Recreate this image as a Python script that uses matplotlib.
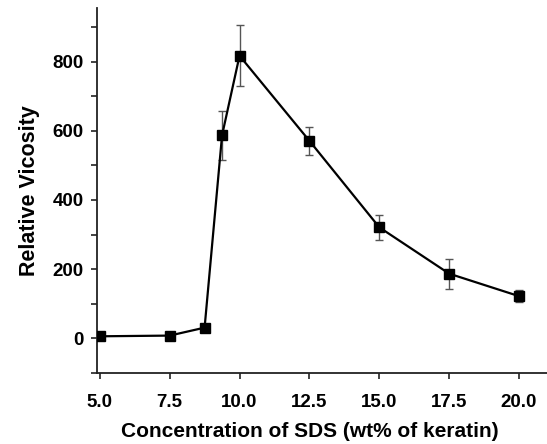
import numpy as np
import matplotlib
matplotlib.use("Agg")
import matplotlib.pyplot as plt
from matplotlib.ticker import MultipleLocator

# データ
sds = [5.0, 7.5, 8.75, 9.375, 10.0, 12.5, 15.0, 17.5, 20.0]
visc = [6, 8, 31, 587, 817, 571, 321, 187, 122]
err = [0, 0, 0, 70, 88, 40, 37, 43, 18]

plt.rcParams['font.family'] = ['Liberation Sans', 'DejaVu Sans']
plt.rcParams['font.weight'] = 'bold'

fig = plt.figure(figsize=(5.47, 4.44), dpi=100)
ax = fig.add_axes([0.1773, 0.16, 0.8227, 0.822])

ax.errorbar(sds, visc, yerr=err, fmt='none', ecolor='#555555', elinewidth=1.0,
            capsize=2.8, capthick=1.0, zorder=2)
ax.plot(sds, visc, color='black', linewidth=1.6, marker='s', markersize=7, zorder=3)

ax.set_xlim(4.9, 21.0)
ax.set_ylim(-100, 955)
ax.set_xticks(np.arange(5.0, 20.1, 2.5))
ax.set_xticklabels(['%.1f' % v for v in np.arange(5.0, 20.1, 2.5)])
ax.set_yticks([0, 200, 400, 600, 800])
ax.yaxis.set_minor_locator(MultipleLocator(100))

for s in ['top', 'right']:
    ax.spines[s].set_visible(False)
for s in ['left', 'bottom']:
    ax.spines[s].set_linewidth(1.3)
    ax.spines[s].set_color('#222222')

ax.tick_params(axis='both', which='both', direction='out', length=4.5, width=1.2,
               labelsize=13.5, color='#222222')
ax.tick_params(axis='x', pad=11)
ax.tick_params(axis='y', pad=5)
for lab in ax.get_xticklabels() + ax.get_yticklabels():
    lab.set_fontweight('bold')

ax.set_xlabel('Concentration of SDS (wt% of keratin)', fontsize=15, fontweight='bold', labelpad=11)
ax.xaxis.set_label_coords(0.473, -0.135)
ax.set_ylabel('Relative Vicosity', fontsize=15.5, fontweight='bold', labelpad=9)

fig.savefig('out.png', dpi=100)
